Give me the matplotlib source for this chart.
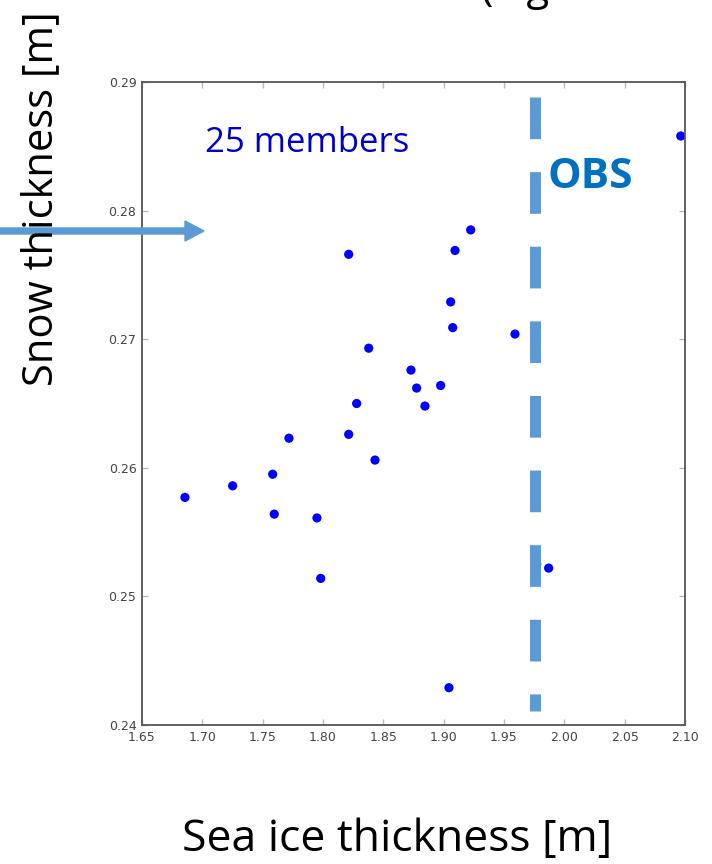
import matplotlib
matplotlib.use("Agg")
import matplotlib.pyplot as plt
from matplotlib.patches import FancyArrow

# ---- data ----
sea_ice = [1.8213, 1.9224, 1.9094, 1.9058, 1.9075, 1.9591, 1.8379, 1.8729,
           1.8776, 1.8975, 1.8845, 1.8279, 1.7718, 1.8213, 1.8431, 1.7583,
           1.7251, 1.6856, 1.7596, 1.7950, 1.7981, 1.9870, 1.9771, 1.9044,
           2.0965]
snow = [0.2766, 0.2785, 0.2769, 0.2729, 0.2709, 0.2704, 0.2693, 0.2676,
        0.2662, 0.2664, 0.2648, 0.2650, 0.2623, 0.2626, 0.2606, 0.2595,
        0.2586, 0.2577, 0.2564, 0.2561, 0.2514, 0.2522, 0.2525, 0.2429,
        0.2858]
obs_x = 1.9757
obs_y_range = [0.28883, 0.24109]
x_ticks = [1.65, 1.70, 1.75, 1.80, 1.85, 1.90, 1.95, 2.00, 2.05, 2.10]
y_ticks = [0.24, 0.25, 0.26, 0.27, 0.28, 0.29]

FONT = ["Open Sans", "DejaVu Sans"]

fig = plt.figure(figsize=(7.12, 8.64), dpi=100)
ax = fig.add_axes([142 / 712, 1 - 725 / 864, (685 - 142) / 712, (725 - 82) / 864])

ax.scatter(sea_ice, snow, s=44, color="#0000ff", edgecolors="none", zorder=2)
ax.plot([obs_x, obs_x], obs_y_range, color="#5b9bd5", lw=7.9,
        dashes=(3.8, 3.0), solid_capstyle="butt", dash_capstyle="butt", zorder=3)

ax.set_xlim(1.65, 2.10)
ax.set_ylim(0.24, 0.29)
ax.set_xticks(x_ticks)
ax.set_yticks(y_ticks)
ax.set_xticklabels([f"{v:.2f}" for v in x_ticks])
ax.set_yticklabels([f"{v:.2f}" for v in y_ticks])
ax.tick_params(direction="in", length=4, width=1, color="#bbbbbb",
               labelsize=9, labelcolor="#444444", top=True, right=True, pad=4)
for sp in ax.spines.values():
    sp.set_color("#555555")
    sp.set_linewidth(1.3)

ax.text(205, 864 - 143, "25 members", transform=None, fontsize=25,
        color="#0000cc", family=FONT, ha="left", va="center")
ax.text(590, 864 - 177, "OBS", transform=None, fontsize=30.5, fontweight="bold",
        color="#0070c0", family=FONT, ha="center", va="center")

fig.text(182 / 712, 1 - 840 / 864, "Sea ice thickness [m]", fontsize=32,
         family=FONT, ha="left", va="center", color="black")
fig.text(41 / 712, 1 - 199 / 864, "Snow thickness [m]", fontsize=30,
         family=FONT, ha="center", va="center", rotation=90, color="black")
fig.text(480 / 712, 1.0, "(e.g.", fontsize=30, family=FONT, ha="left",
         va="baseline", color="black")

arrow = FancyArrow(0.0, (864 - 231) / 100, 2.04, 0.0, width=0.06,
                   head_width=0.20, head_length=0.19, length_includes_head=True,
                   color="#5b9bd5", transform=fig.dpi_scale_trans)
fig.add_artist(arrow)

fig.savefig("out.png", dpi=100)
